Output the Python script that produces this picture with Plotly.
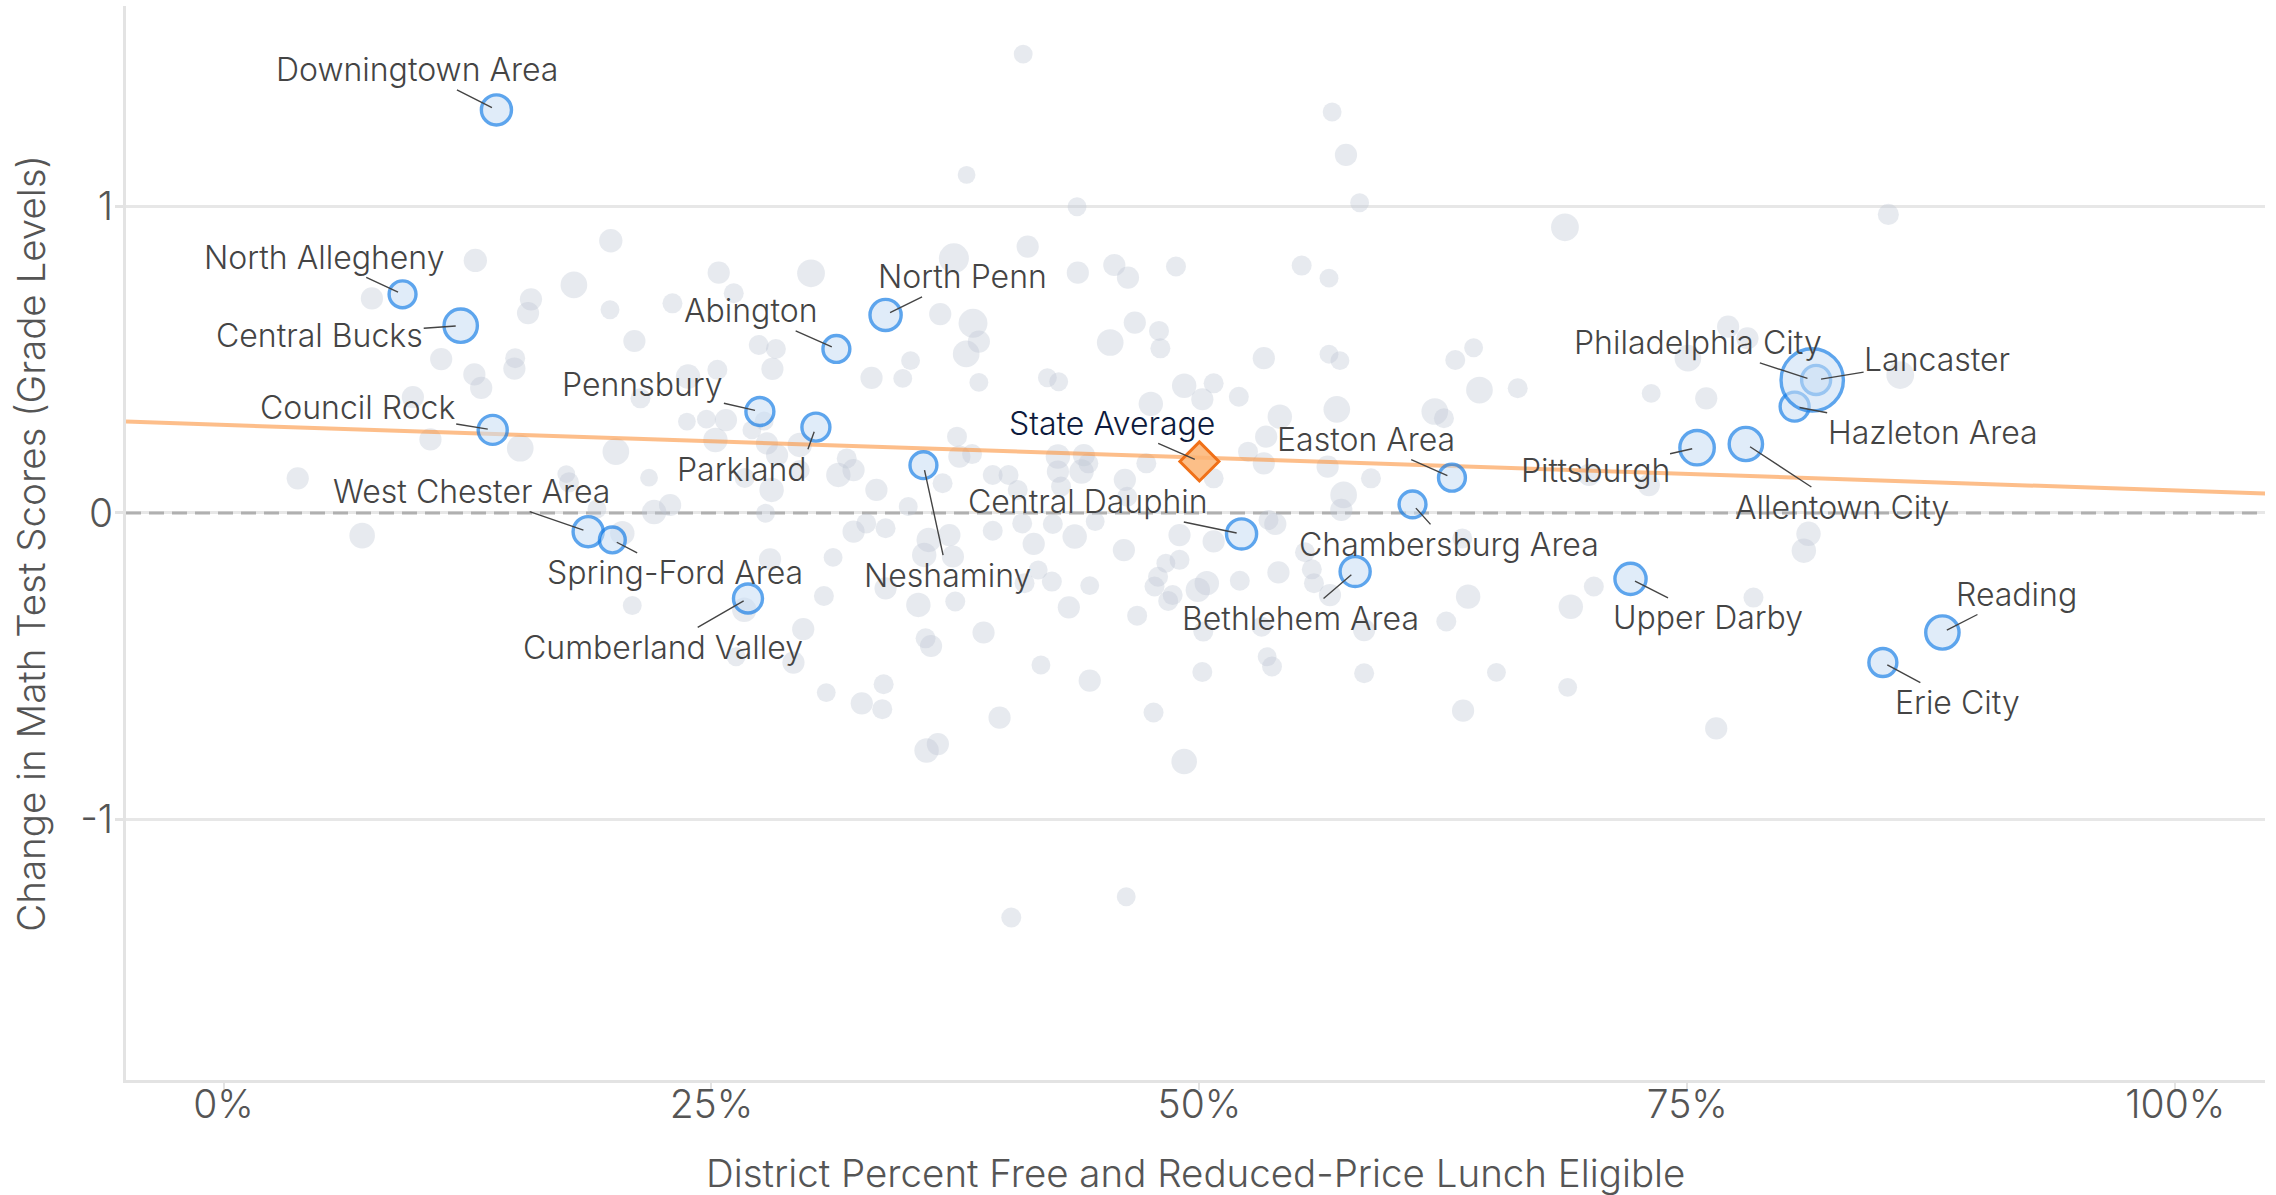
import plotly.graph_objects as go

# ---------------- data ----------------
# Gray background districts: % free/reduced-price lunch eligible, change in math scores (grade levels)
gray_pct = [3.8, 7.1, 7.6, 9.7, 10.6, 11.15, 12.9, 12.85, 13.2, 14.94, 14.9, 15.2, 15.75, 15.6, 17.95, 17.56, 17.7,
            19.84, 19.8, 19.13, 20.1, 20.43, 20.94, 21.05, 21.36, 21.8, 22.06, 22.88, 23.0, 23.8, 23.74, 24.74, 25.2,
            25.3, 25.37, 25.74, 26.14, 26.7, 26.68, 26.26, 27.07, 27.42, 27.77, 27.84, 27.7, 28.0, 28.08, 28.3, 28.12,
            28.36, 29.52, 29.52, 29.2, 29.7, 30.1, 30.76, 30.88, 31.23, 31.5, 31.93, 32.28, 32.28, 32.93, 32.7, 33.2,
            33.45, 33.92, 33.82, 33.75, 33.92, 34.8, 35.2, 35.08, 35.9, 35.6, 35.97, 36.25, 36.13, 36.02, 36.6, 36.72,
            36.84, 37.19, 37.37, 37.42, 37.49, 37.58, 37.7, 38.05, 38.07, 38.35, 38.4, 38.7, 38.7, 38.94, 39.41, 39.41,
            39.76, 40.22, 40.36, 40.69, 40.92, 40.97, 41.2, 41.51, 41.74, 41.04, 41.88, 42.21, 42.79, 42.49, 42.44,
            42.75, 42.75, 42.91, 43.31, 43.61, 43.73, 43.77, 43.96, 44.08, 44.31, 44.38, 44.38, 44.66, 45.43, 45.64,
            46.13, 46.18, 46.3, 46.25, 46.34, 46.69, 46.81, 47.28, 47.51, 47.7, 47.88, 47.65, 47.93, 48.0, 48.28, 48.4,
            48.63, 48.8, 48.98, 48.98, 49.22, 49.22, 49.92, 50.15, 50.38, 50.73, 50.73, 50.73, 50.2, 50.15, 52.02,
            52.07, 52.49, 53.19, 53.3, 53.3, 53.42, 53.54, 53.47, 53.72, 53.89, 54.05, 54.12, 55.24, 55.41, 55.76,
            55.87, 56.57, 56.64, 56.64, 56.69, 56.8, 57.04, 57.2, 57.39, 57.27, 57.51, 58.21, 58.44, 58.44, 58.79,
            62.06, 62.53, 62.65, 63.11, 63.47, 63.77, 63.51, 64.05, 64.35, 65.22, 66.31, 68.73, 68.87, 69.03, 69.97,
            70.21, 73.03, 73.15, 75.03, 75.97, 76.48, 77.09, 78.08, 78.39, 80.97, 81.21, 85.3, 85.91]
gray_chg = [0.113, -0.074, 0.70, 0.378, 0.240, 0.502, 0.824, 0.452, 0.408, 0.505, 0.471, 0.211, 0.697, 0.652, 0.744,
            0.127, 0.10, 0.888, 0.663, 0.013, 0.200, -0.066, -0.302, 0.561, 0.374, 0.115, 0.003, 0.026, 0.684, 0.445,
            0.298, 0.306, 0.238, 0.467, 0.784, 0.303, 0.717, 0.114, -0.316, -0.469, 0.271, 0.548, -0.001, 0.227, 0.30,
            -0.151, 0.075, 0.535, 0.470, 0.189, 0.222, 0.140, -0.488, -0.379, 0.782, -0.271, -0.586, -0.145, 0.124,
            0.178, 0.140, -0.061, -0.034, -0.621, 0.441, 0.075, -0.050, -0.559, -0.640, -0.246, 0.439, 0.497, 0.021,
            -0.137, -0.300, -0.409, -0.434, -0.088, -0.775, -0.754, 0.649, 0.097, -0.072, -0.142, 0.831, -0.289, 0.249,
            0.184, 0.519, 1.103, 0.192, 0.619, 0.559, 0.426, -0.390, 0.124, -0.058, -0.668, 0.124, -1.320, 0.075,
            -0.034, 1.497, 0.869, -0.101, -0.186, -0.229, -0.496, 0.441, 0.428, -0.036, -0.224, 0.184, 0.135, 0.086,
            -0.308, -0.077, 0.999, 0.784, 0.135, 0.189, 0.162, -0.237, -0.547, -0.028, 0.556, 0.809, -0.121, 0.108,
            0.053, -1.252, 0.768, 0.621, -0.335, 0.162, 0.356, -0.240, -0.208, -0.651, 0.594, 0.537, -0.164, -0.287,
            -0.268, 0.804, -0.072, -0.153, 0.415, -0.811, -0.251, 0.371, -0.229, 0.423, 0.113, -0.093, -0.387, -0.519,
            0.379, -0.221, 0.200, -0.371, 0.505, 0.162, 0.249, -0.023, -0.469, -0.501, -0.036, -0.194, 0.314, 0.807,
            -0.128, -0.184, -0.229, 0.151, 0.766, 0.518, -0.268, 1.308, 0.338, 0.497, 0.059, 0.010, 1.168, 1.012,
            -0.382, -0.523, 0.113, 0.331, 0.309, -0.354, 0.499, -0.083, -0.273, -0.645, 0.539, 0.401, -0.520, 0.407,
            0.932, -0.569, -0.306, 0.124, -0.240, 0.091, 0.390, 0.505, 0.374, -0.703, 0.608, 0.570, -0.276, -0.123,
            -0.068, 0.974, 0.450]
gray_enroll = [20, 23, 20, 20, 20, 20, 21, 20, 20, 18, 20, 24, 20, 20, 24, 16, 18, 21, 17, 17, 24, 22, 17, 20, 18, 16,
               22, 20, 18, 22, 16, 17, 22, 18, 20, 20, 18, 18, 22, 17, 17, 18, 17, 20, 17, 20, 22, 18, 20, 20, 22, 18,
               20, 20, 25, 18, 17, 17, 22, 18, 20, 20, 18, 20, 20, 20, 18, 18, 18, 20, 17, 17, 17, 22, 22, 18, 20, 22,
               22, 20, 20, 18, 20, 20, 27, 18, 18, 20, 24, 16, 18, 26, 20, 17, 20, 18, 18, 20, 18, 18, 18, 18, 17, 20,
               20, 17, 18, 17, 17, 17, 18, 18, 22, 20, 18, 20, 22, 17, 20, 22, 20, 18, 17, 20, 17, 24, 20, 20, 20, 18,
               17, 20, 20, 18, 18, 22, 18, 18, 18, 18, 18, 17, 18, 18, 18, 20, 18, 22, 23, 22, 20, 22, 18, 18, 20, 18,
               18, 18, 18, 18, 18, 20, 20, 20, 18, 17, 18, 20, 20, 22, 18, 18, 18, 18, 20, 17, 17, 20, 17, 24, 17, 24,
               20, 20, 17, 20, 18, 18, 24, 18, 18, 18, 18, 22, 20, 17, 24, 17, 18, 25, 17, 22, 20, 18, 20, 17, 24, 20,
               20, 20, 20, 18, 22, 22, 19, 25]

# Highlighted districts (Philadelphia drawn last, on top)
hl_names = ["Downingtown Area", "North Allegheny", "Central Bucks", "Council Rock", "West Chester Area",
            "Spring-Ford Area", "Cumberland Valley", "Pennsbury", "Parkland", "Abington", "North Penn", "Neshaminy",
            "Central Dauphin", "Easton Area", "Chambersburg Area", "Bethlehem Area", "Pittsburgh", "Allentown City",
            "Hazleton Area", "Lancaster", "Upper Darby", "Reading", "Erie City", "Philadelphia City"]
hl_pct = [13.98, 9.17, 12.15, 13.79, 18.68, 19.92, 26.87, 27.48, 30.35, 31.4, 33.92, 35.86, 52.16, 62.94, 60.92,
          57.98, 75.5, 78.0, 80.5, 81.6, 72.09, 88.07, 85.02, 81.4]
hl_chg = [1.315, 0.7135, 0.611, 0.271, -0.061, -0.088, -0.279, 0.331, 0.280, 0.535, 0.646, 0.156, -0.0685, 0.115,
          0.028, -0.191, 0.213, 0.225, 0.347, 0.434, -0.215, -0.39, -0.488, 0.434]
hl_enroll = [28, 25, 31, 27, 28, 24, 27, 26, 26, 25, 29, 25, 28, 25, 25, 28, 32, 31, 27, 27, 29, 31, 26, 58]

state_name = "State Average"
state_pct = 50.0
state_chg = 0.168

# Fitted trend line endpoints
trend_pct = [-5.0, 105.0]
trend_chg = [0.298, 0.063]

# Zero reference line
zero_pct = [-5.0, 104.6]
zero_chg = [0.0, 0.0]

x_ticks = [0, 25, 50, 75, 100]
x_ticktext = ["0%", "25%", "50%", "75%", "100%"]
y_ticks = [-1, 0, 1]
y_ticktext = ["-1", "0", "1"]
x_title = "District Percent Free and Reduced-Price Lunch Eligible"
y_title = "Change in Math Test Scores (Grade Levels)"

# label placement (pixels, text centre relative to point; a few labels anchored at a corner)
label_offsets = [(-79, -40), (-79, -37), (-141, 10), (-135, -22), (-117, -40), (63, 33), (-85, 49), (-117, -27),
                 (-8, 22), (-86, -38), (77, -38), (24, 110), (-154, -32), (-86, -38), (36, 40), (-55, 47),
                 (-102, 23), (96, 63), (138, 26), (121, -20), (77, 39), (74, -38), (75, 40), (-114, -37)]
label_anchor = {"Parkland": ("right", "top")}
state_offset = (-87, -38)

# ---------------- figure ----------------
FONT = "Inter"
WEIGHT = 300
LABEL = "#444444"
AXIS_GRAY = "#e3e3e3"

fig = go.Figure()

fig.add_trace(go.Scatter(
    x=zero_pct, y=zero_chg, mode="lines",
    line=dict(color="#b0b0b0", width=3, dash="15px,8px"),
    hoverinfo="skip", showlegend=False))

fig.add_trace(go.Scatter(
    x=gray_pct, y=gray_chg, mode="markers",
    marker=dict(size=gray_enroll, sizemode="diameter", sizeref=0.9,
                color="rgba(188,197,210,0.52)", line=dict(width=0)),
    hoverinfo="skip", showlegend=False))

fig.add_trace(go.Scatter(
    x=trend_pct, y=trend_chg, mode="lines",
    line=dict(color="rgba(251,146,60,0.6)", width=4),
    hoverinfo="skip", showlegend=False))

fig.add_trace(go.Scatter(
    x=hl_pct, y=hl_chg, mode="markers", text=hl_names,
    marker=dict(size=hl_enroll, sizemode="diameter", sizeref=0.93,
                color="rgba(201,222,245,0.8)", line=dict(color="#1a7fe6", width=3.4)),
    hoverinfo="text", showlegend=False))

fig.add_trace(go.Scatter(
    x=[state_pct], y=[state_chg], mode="markers", text=[state_name],
    marker=dict(symbol="diamond", size=30, color="rgba(252,180,115,0.85)", line=dict(color="#f07018", width=3)),
    hoverinfo="text", showlegend=False))

for name, px, cy, (dx, dy) in zip(hl_names, hl_pct, hl_chg, label_offsets):
    xa, ya = label_anchor.get(name, ("auto", "auto"))
    fig.add_annotation(x=px, y=cy, text=name, ax=dx, ay=dy, showarrow=True, arrowhead=0,
                       xanchor=xa, yanchor=ya,
                       arrowwidth=1.4, arrowcolor="#444444", standoff=5, borderpad=0,
                       font=dict(family=FONT, size=32, color=LABEL, weight=WEIGHT))

fig.add_annotation(x=state_pct, y=state_chg, text=state_name, ax=state_offset[0], ay=state_offset[1],
                   showarrow=True, arrowhead=0, arrowwidth=1.4, arrowcolor="#444444", standoff=5, borderpad=0,
                   font=dict(family=FONT, size=32, color="#0d1a3d", weight=WEIGHT))

# axis titles
fig.add_annotation(xref="paper", yref="paper", x=0.5, y=-0.0866, text=x_title, showarrow=False,
                   xanchor="center", yanchor="middle",
                   font=dict(family=FONT, size=38.5, color="#555555", weight=WEIGHT))
fig.add_annotation(xref="paper", yref="paper", x=-0.0445, y=0.5, text=y_title, showarrow=False, textangle=-90,
                   xanchor="center", yanchor="middle",
                   font=dict(family=FONT, size=38.5, color="#555555", weight=WEIGHT))

fig.update_xaxes(range=[-5, 104.6], tickvals=x_ticks, ticktext=x_ticktext, showgrid=False, zeroline=False,
                 showline=True, linecolor=AXIS_GRAY, linewidth=3, ticks="outside", ticklen=7, tickwidth=2,
                 tickcolor=AXIS_GRAY, ticklabelstandoff=-19,
                 tickfont=dict(family=FONT, size=39, color="#555555", weight=WEIGHT))
fig.update_yaxes(range=[-1.85, 1.654], tickvals=y_ticks, ticktext=y_ticktext, showgrid=True, gridcolor="#e7e7e7",
                 gridwidth=3, zeroline=False, showline=True, linecolor=AXIS_GRAY, linewidth=3, ticks="outside",
                 ticklen=8, tickwidth=3, tickcolor=AXIS_GRAY, ticklabelstandoff=-6,
                 tickfont=dict(family=FONT, size=39, color="#555555", weight=WEIGHT))

fig.update_layout(width=2276, height=1195, margin=dict(l=126, r=11, t=6, b=115),
                  plot_bgcolor="white", paper_bgcolor="white", font=dict(family=FONT), showlegend=False)

fig.write_html("out.html", config={"displayModeBar": False},
               post_script="document.body.style.margin='0px';")
